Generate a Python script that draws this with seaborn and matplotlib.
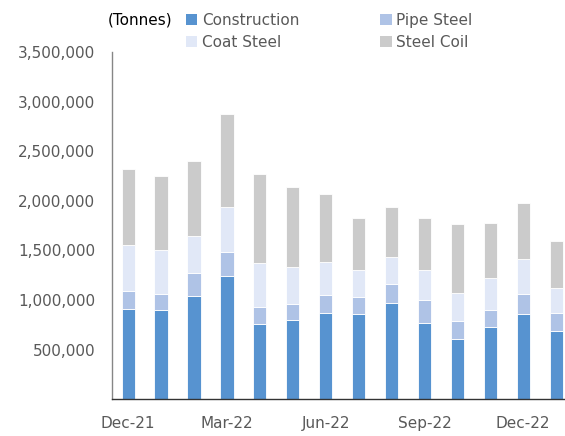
import numpy as np
import pandas as pd
import matplotlib
matplotlib.use("Agg")
import matplotlib.pyplot as plt
import seaborn as sns
from matplotlib.patches import Patch
from matplotlib.ticker import FuncFormatter


# monthly volumes (tonnes)
months = ["Dec-21", "Jan-22", "Feb-22", "Mar-22", "Apr-22", "May-22", "Jun-22",
          "Jul-22", "Aug-22", "Sep-22", "Oct-22", "Nov-22", "Dec-22", "Jan-23"]
construction = [910000, 903000, 1041000, 1240000, 759000, 799000, 873000,
                860000, 971000, 769000, 605000, 732000, 860000, 689000]
pipe_steel = [182000, 162000, 232000, 245000, 168000, 162000, 178000,
              174000, 188000, 229000, 184000, 168000, 201000, 178000]
coat_steel = [463000, 440000, 376000, 450000, 444000, 373000, 333000,
              269000, 272000, 302000, 286000, 320000, 353000, 252000]
steel_coil = [770000, 743000, 756000, 941000, 903000, 809000, 683000,
              525000, 504000, 528000, 689000, 560000, 562000, 480000]

tick_months = ["Dec-21", "Mar-22", "Jun-22", "Sep-22", "Dec-22"]

colors = {
    "Construction": "#5793D0",
    "Pipe Steel": "#AFC3E6",
    "Coat Steel": "#E1E8F7",
    "Steel Coil": "#CBCBCB",
}


def main():
    df = pd.DataFrame({
        "Month": months,
        "Construction": construction,
        "Pipe Steel": pipe_steel,
        "Coat Steel": coat_steel,
        "Steel Coil": steel_coil,
    })

    sns.set_style("white")
    plt.rcParams["font.family"] = ["DejaVu Sans"]

    fig = plt.figure(figsize=(5.65, 4.36), dpi=100)
    ax = fig.add_axes([0.1977, 0.0842, 0.8023, 0.7965])

    bottom = np.zeros(len(df))
    for col in ["Construction", "Pipe Steel", "Coat Steel", "Steel Coil"]:
        sns.barplot(data=df, x="Month", y=col, order=months, color=colors[col],
                    width=0.4, bottom=bottom, edgecolor="white", linewidth=0.6,
                    saturation=1, ax=ax)
        bottom = bottom + df[col].values

    ax.set_xlim(-0.5, 13.27)
    ax.set_ylim(0, 3500000)
    ax.set_yticks(np.arange(500000, 3500001, 500000))
    ax.yaxis.set_major_formatter(FuncFormatter(lambda v, p: f"{int(v):,}"))
    ax.tick_params(axis="y", direction="in", length=6, width=0.8,
                   color="#868686", labelsize=11, labelcolor="#595959", pad=12)

    ax.set_xticks([months.index(m) for m in tick_months])
    ax.set_xticklabels(tick_months)
    ax.set_xticks([2.5, 5.5, 8.5, 11.5], minor=True)
    ax.tick_params(axis="x", which="major", length=0, labelsize=11,
                   labelcolor="#595959", pad=12)
    ax.tick_params(axis="x", which="minor", direction="in", length=4,
                   width=0.8, color="#333333")

    ax.set_xlabel("")
    ax.set_ylabel("")
    for s in ["top", "right"]:
        ax.spines[s].set_visible(False)
    ax.spines["left"].set_color("#868686")
    ax.spines["bottom"].set_color("#333333")
    ax.spines["left"].set_linewidth(1.0)
    ax.spines["bottom"].set_linewidth(1.0)

    fig.text(0.19, 0.953, "(Tonnes)", fontsize=11, color="black", va="center")

    order = ["Construction", "Coat Steel", "Pipe Steel", "Steel Coil"]
    handles = [Patch(facecolor=colors[k], edgecolor="none") for k in order]
    leg = fig.legend(handles, order, ncol=2, loc="upper left",
                     bbox_to_anchor=(0.318, 0.985), frameon=False, fontsize=11,
                     handlelength=0.75, handleheight=0.75, handletextpad=0.3,
                     columnspacing=5.3, labelspacing=0.45, borderaxespad=0)
    for t in leg.get_texts():
        t.set_color("#595959")

    fig.savefig("out.png", dpi=100)


if __name__ == "__main__":
    main()
